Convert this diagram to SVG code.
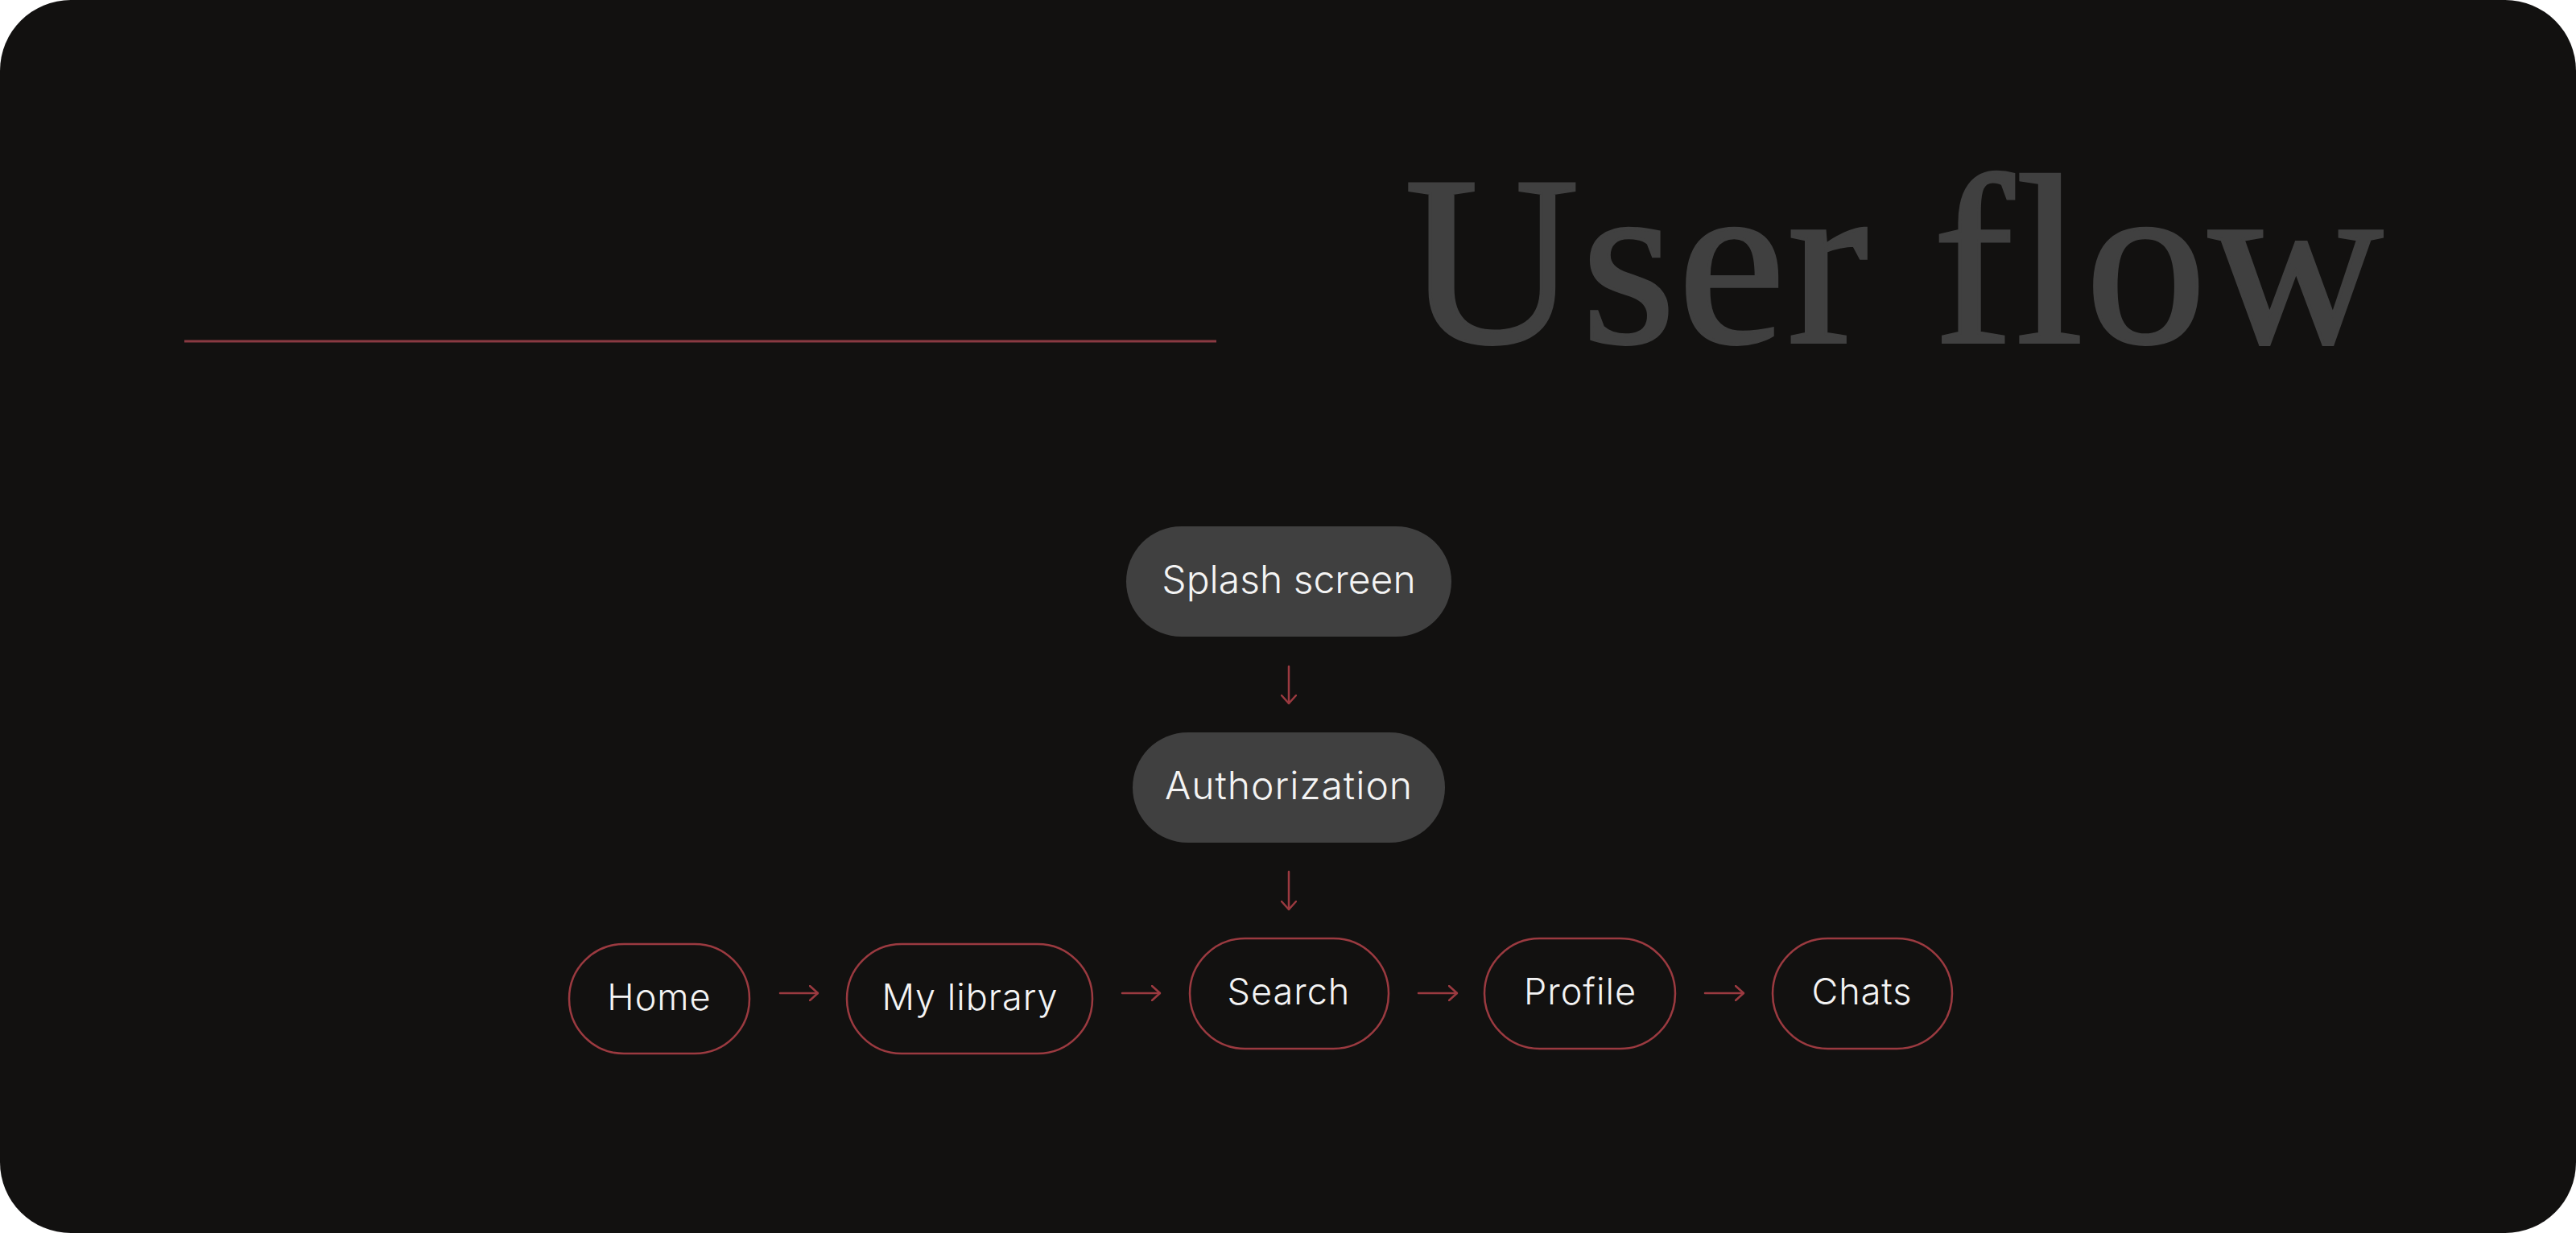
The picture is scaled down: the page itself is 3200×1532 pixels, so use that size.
<svg xmlns="http://www.w3.org/2000/svg" width="3200" height="1532" viewBox="0 0 3200 1532">
  <defs>
    <style>
      .pill { fill: #404040; }
      .outline { fill: #121110; stroke: #9b3a40; stroke-width: 2.5; }
      .label { font-family: Inter, "Noto Sans", "Liberation Sans", sans-serif; font-weight: 300; fill: #f4f4f4; text-anchor: middle; letter-spacing: 1px; }
      .tight { letter-spacing: 0; }
      .conn { stroke: #9b3a40; stroke-width: 2.5; fill: none; stroke-linecap: round; stroke-linejoin: round; }
    </style>
    <marker id="arrow" viewBox="0 0 12 20" refX="11" refY="10" markerWidth="12" markerHeight="20" markerUnits="userSpaceOnUse" orient="auto">
      <path d="M1,1 L11,10 L1,19" fill="none" stroke="#9b3a40" stroke-width="2.5" stroke-linecap="round" stroke-linejoin="round"/>
    </marker>
  </defs>
  <rect x="0" y="0" width="3200" height="1532" fill="#ffffff"/>
  <rect id="background" x="0" y="0" width="3200" height="1532" rx="88" ry="88" fill="#121110"/>

  <g id="header">
    <line x1="229" y1="424" x2="1511" y2="424" stroke="#8a3a42" stroke-width="3"/>
    <text x="1745" y="425" font-family="'Liberation Serif', 'DejaVu Serif', serif" font-size="300" letter-spacing="3" fill="#404040" stroke="#404040" stroke-width="4">User flow</text>
  </g>

  <g id="connectors">
    <line class="conn" x1="1601" y1="828" x2="1601" y2="874" marker-end="url(#arrow)"/>
    <line class="conn" x1="1601" y1="1083" x2="1601" y2="1130" marker-end="url(#arrow)"/>
    <line class="conn" x1="969" y1="1234" x2="1016" y2="1234" marker-end="url(#arrow)"/>
    <line class="conn" x1="1394" y1="1234" x2="1441" y2="1234" marker-end="url(#arrow)"/>
    <line class="conn" x1="1762" y1="1234" x2="1810" y2="1234" marker-end="url(#arrow)"/>
    <line class="conn" x1="2118" y1="1234" x2="2166" y2="1234" marker-end="url(#arrow)"/>
  </g>

  <g id="node-splash">
    <rect class="pill" x="1399" y="654" width="404" height="137" rx="68.5"/>
    <text class="label tight" x="1601" y="737" font-size="48">Splash screen</text>
  </g>
  <g id="node-authorization">
    <rect class="pill" x="1407" y="910" width="388" height="137" rx="68.5"/>
    <text class="label" x="1601" y="993" font-size="48">Authorization</text>
  </g>
  <g id="node-home">
    <rect class="outline" x="707" y="1173" width="224" height="136" rx="68"/>
    <text class="label" x="819" y="1255" font-size="45">Home</text>
  </g>
  <g id="node-library">
    <rect class="outline" x="1052" y="1173" width="305" height="136" rx="68"/>
    <text class="label" x="1205" y="1255" font-size="45">My library</text>
  </g>
  <g id="node-search">
    <rect class="outline" x="1478" y="1166" width="247" height="137" rx="68.5"/>
    <text class="label" x="1601" y="1248" font-size="45">Search</text>
  </g>
  <g id="node-profile">
    <rect class="outline" x="1844" y="1166" width="237" height="137" rx="68.5"/>
    <text class="label" x="1963" y="1248" font-size="45">Profile</text>
  </g>
  <g id="node-chats">
    <rect class="outline" x="2202" y="1166" width="223" height="137" rx="68.5"/>
    <text class="label" x="2313" y="1248" font-size="45">Chats</text>
  </g>
</svg>
